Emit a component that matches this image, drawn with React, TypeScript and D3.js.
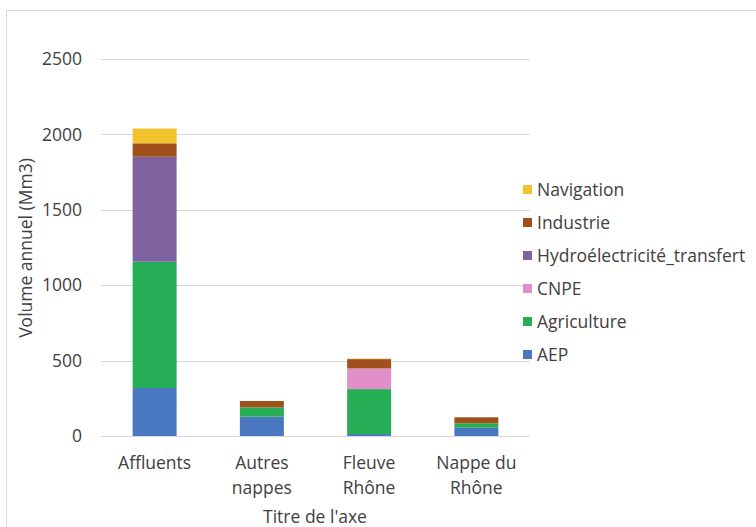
import React from "react";
import * as d3 from "d3";

const categories = ["Affluents", "Autres nappes", "Fleuve Rhône", "Nappe du Rhône"];
const categoryLines = [["Affluents"], ["Autres", "nappes"], ["Fleuve", "Rhône"], ["Nappe du", "Rhône"]];
const seriesNames = ["AEP", "Agriculture", "CNPE", "Hydroélectricité_transfert", "Industrie", "Navigation"];
const AEP = [318, 128, 13, 55];
const Agriculture = [838, 62, 298, 29];
const CNPE = [0, 0, 137, 0];
const Hydro = [696, 0, 0, 0];
const Industrie = [89, 42, 62, 40];
const Navigation = [98, 0, 3, 0];
const yTicks = [0, 500, 1000, 1500, 2000, 2500];
const colors = ["#4a78c0", "#25ae55", "#e08fc8", "#7f62a0", "#a0501a", "#f2c12e"];

const W = 756;
const H = 527;
const plotLeft = 101;
const plotRight = 530;
const y0 = 436;
const yTop = 59;
const font = "'Open Sans', Lato, sans-serif";
const textColor = "#404040";
const fs = 17.5;

export default function App() {
  const values = [AEP, Agriculture, CNPE, Hydro, Industrie, Navigation];
  const rows = categories.map((c, i) => {
    const r: any = { cat: c };
    seriesNames.forEach((s, j) => (r[s] = values[j][i]));
    return r;
  });
  const stacked = d3.stack().keys(seriesNames)(rows);
  const x = d3.scaleBand().domain(categories).range([plotLeft, plotRight]).paddingInner(0.59).paddingOuter(0.295);
  const y = d3.scaleLinear().domain([0, 2500]).range([y0, yTop]);

  const legendOrder = [...seriesNames].reverse();

  return (
    <svg width={W} height={H} style={{ position: "absolute", left: 0, top: 0, background: "#fff" }} fontFamily={font}>
      <rect x={6.5} y={10.5} width={W + 10} height={H + 10} fill="#fff" stroke="#d9d9d9" strokeWidth={1} />
      {yTicks.map((t) => (
        <g key={t}>
          <line x1={plotLeft} x2={plotRight} y1={Math.round(y(t)) + 0.5} y2={Math.round(y(t)) + 0.5} stroke="#d9d9d9" strokeWidth={1} />
          <text x={82} y={y(t)} dy="0.35em" textAnchor="end" fontSize={fs} fill={textColor}>
            {t}
          </text>
        </g>
      ))}
      {stacked.map((s, si) => (
        <g key={s.key} fill={colors[si]}>
          {s.map((d, i) =>
            d[1] - d[0] > 0 ? (
              <rect key={i} x={x(categories[i])} width={x.bandwidth()} y={y(d[1])} height={y(d[0]) - y(d[1])} />
            ) : null
          )}
        </g>
      ))}
      {categories.map((c, i) => (
        <text key={c} textAnchor="middle" fontSize={fs} fill={textColor}>
          {categoryLines[i].map((l, k) => (
            <tspan key={k} x={(x(c) as number) + x.bandwidth() / 2} y={469 + k * 25}>
              {l}
            </tspan>
          ))}
        </text>
      ))}
      <text x={315} y={523} textAnchor="middle" fontSize={fs} fill={textColor}>
        Titre de l'axe
      </text>
      <text transform={`translate(32,248) rotate(-90)`} textAnchor="middle" fontSize={fs} fill={textColor}>
        Volume annuel (Mm3)
      </text>
      {legendOrder.map((s, i) => {
        const ci = seriesNames.indexOf(s);
        const ly = 190 + i * 33;
        return (
          <g key={s}>
            <rect x={523} y={ly - 5} width={9} height={9} fill={colors[ci]} />
            <text x={537} y={ly} dy="0.35em" fontSize={fs} fill={textColor}>
              {s}
            </text>
          </g>
        );
      })}
    </svg>
  );
}
